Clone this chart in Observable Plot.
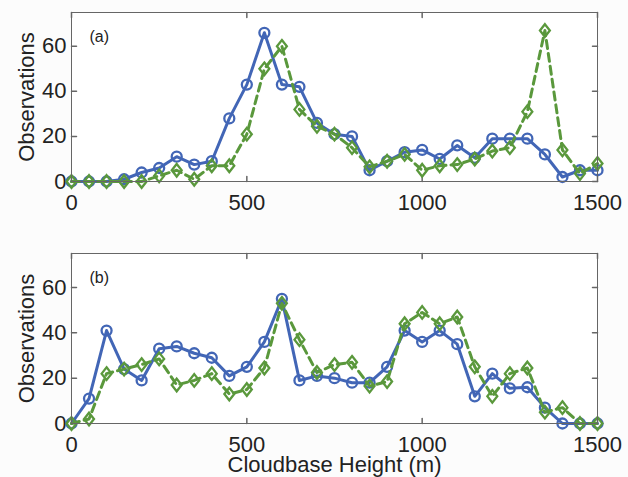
<!DOCTYPE html>
<html><head><meta charset="utf-8">
<script src="https://cdn.jsdelivr.net/npm/d3@7"></script>
<script src="https://cdn.jsdelivr.net/npm/@observablehq/plot@0.6"></script>
<style>
body{margin:0;background:#fcfcfc;font-family:"Liberation Sans",Arial,sans-serif;}
svg{display:block;}
</style>
</head><body><div id="chart"></div>
<script>
// Data (cloudbase height bins, m)
const heights = [0,50,100,150,200,250,300,350,400,450,500,550,600,650,700,750,800,850,900,950,1000,1050,1100,1150,1200,1250,1300,1350,1400,1450,1500];
const blueA  = [0,0,0,1,4,6,11,7.5,9,28,43,66,43,42,26,21,20,5,9,13,14,10,16,10.5,19,19,19,12,2,5,5];
const greenA = [0,0,0,0,0,2.5,5,1,7,7,21,50,60,32,24.5,21,15,6.5,9,12,5,7,7.5,10,13.5,15,31,67,14,3.5,8];
const blueB  = [0,11,41,24,19,33,34,31,29,21,25,36,55,19,21,20,18,18,25,41,36,41,35,12,22,15.5,16,7,0,0,0];
const greenB = [0,2,22,24,26,28.5,17,19,22,13,15,24.5,53,37,22.5,26,27,16.5,18.5,44,49,44,47,25,12,22,24.5,5,7,0,0];
const xTicks = [0,500,1000,1500];
const yTicks = [0,20,40,60];
const panelLabels = ["(a)","(b)"];
const xTitle = "Cloudbase Height (m)";
const yTitle = "Observations";

const BLUE = "#4266b6", GREEN = "#5a983c", AXIS = "#666", TXT = "#222";
const tickShape = {draw(ctx, l){ ctx.moveTo(0,0); ctx.lineTo(0,-l); }};
const diamond = {draw(ctx, size){
  const r = Math.sqrt(size/Math.PI), h = r*1.4, w = r*1.1;
  ctx.moveTo(0,-h); ctx.lineTo(w,0); ctx.lineTo(0,h); ctx.lineTo(-w,0); ctx.closePath();
}};

function panel(blue, green, label, opts){
  const dB = heights.map((h,i)=>({h, v: blue[i]}));
  const dG = heights.map((h,i)=>({h, v: green[i]}));
  const marks = [
    Plot.frame({fill:"white", stroke:"none"}),
    Plot.vector(xTicks, {x:d=>d, frameAnchor:"bottom", length:5, rotate:0, anchor:"start", shape:tickShape, stroke:AXIS}),
    Plot.vector(xTicks, {x:d=>d, frameAnchor:"top", length:5, rotate:180, anchor:"start", shape:tickShape, stroke:AXIS}),
    Plot.vector(yTicks, {y:d=>d, frameAnchor:"left", length:5, rotate:90, anchor:"start", shape:tickShape, stroke:AXIS}),
    Plot.vector(yTicks, {y:d=>d, frameAnchor:"right", length:5, rotate:270, anchor:"start", shape:tickShape, stroke:AXIS}),
    Plot.axisX({ticks:xTicks, tickSize:0, tickPadding:13, fontSize:22, tickFormat:"d", label:null, fill:TXT}),
    Plot.axisY({ticks:yTicks, tickSize:0, tickPadding:5, fontSize:22, tickFormat:"d", label:null, fill:TXT}),
    Plot.line(dB, {x:"h", y:"v", stroke:BLUE, strokeWidth:3}),
    Plot.dot(dB, {x:"h", y:"v", r:5, stroke:BLUE, strokeWidth:2.3, fill:"none"}),
    Plot.line(dG, {x:"h", y:"v", stroke:GREEN, strokeWidth:3, strokeDasharray:"8,5"}),
    Plot.dot(dG, {x:"h", y:"v", r:4.5, symbol:diamond, stroke:GREEN, strokeWidth:2.3, fill:"none"}),
    Plot.frame({stroke:AXIS, strokeWidth:1}),
    Plot.text([label], {text:d=>d, frameAnchor:"top-left", dx:18, dy:24, textAnchor:"start", lineAnchor:"middle", fontSize:16, fill:TXT}),
    Plot.text([yTitle], {text:d=>d, frameAnchor:"left", dx:-45, rotate:-90, textAnchor:"middle", lineAnchor:"middle", fontSize:22, fill:TXT})
  ];
  if (opts.xTitle) marks.push(Plot.text([xTitle], {text:d=>d, frameAnchor:"bottom", dy:41, textAnchor:"middle", lineAnchor:"middle", fontSize:22, fill:TXT}));
  return Plot.plot({
    width:628, height:opts.height,
    marginLeft:71, marginRight:31, marginTop:opts.top, marginBottom:opts.bottom,
    style:{background:"transparent", fontFamily:"'Liberation Sans', Arial, sans-serif", color:TXT, overflow:"visible"},
    x:{domain:[0,1500]}, y:{domain:[0,75]},
    marks
  });
}
const el = document.getElementById("chart");
el.appendChild(panel(blueA, greenA, panelLabels[0], {height:240, top:12, bottom:59}));
el.appendChild(panel(blueB, greenB, panelLabels[1], {height:237, top:13, bottom:54, xTitle:true}));
</script></body></html>
